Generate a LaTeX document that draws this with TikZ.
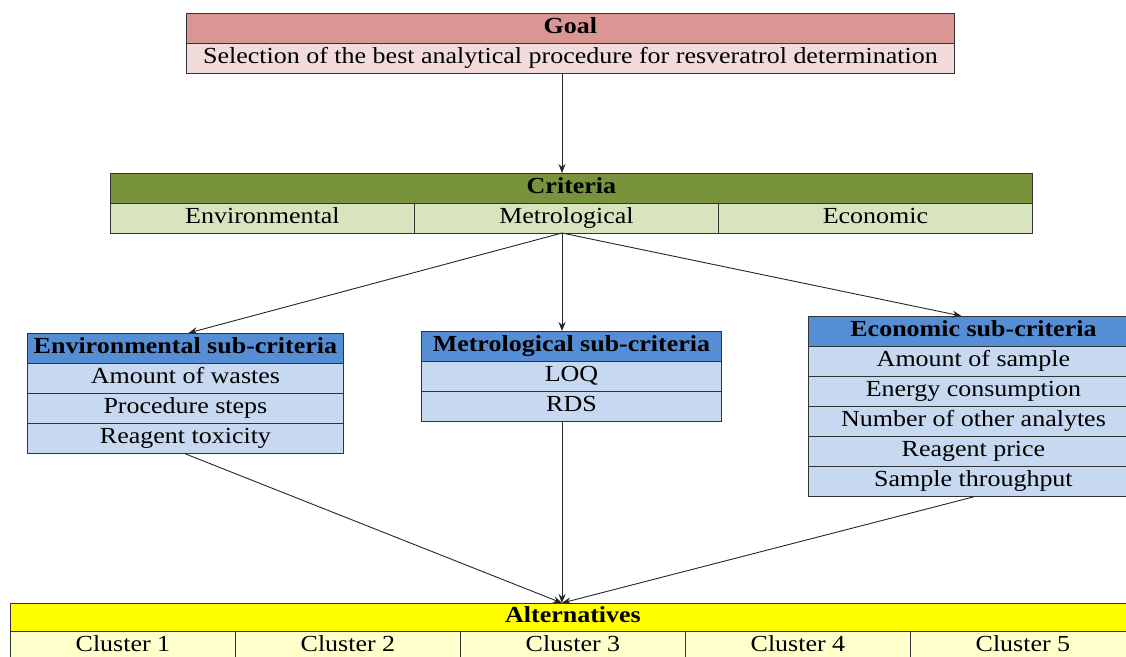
\documentclass[tikz,border=0pt]{standalone}
\usepackage{fontspec}
\setmainfont{Liberation Serif}[FakeStretch=1.13]
\usetikzlibrary{positioning,arrows.meta}

\definecolor{goalhd}{HTML}{D99694}
\definecolor{goalrow}{HTML}{F2DCDB}
\definecolor{crithd}{HTML}{77933C}
\definecolor{critrow}{HTML}{D7E4BD}
\definecolor{subhd}{HTML}{558ED5}
\definecolor{subrow}{HTML}{C6D9F1}
\definecolor{althd}{HTML}{FFFF00}
\definecolor{altrow}{HTML}{FFFFCC}

\tikzset{
  cell/.style={draw=black!80, line width=0.9pt, inner sep=0pt, anchor=north west,
    minimum height=30pt, text height=16pt, text depth=5pt,
    font=\fontsize{23}{23}\selectfont},
  headcell/.style={cell, font=\fontsize{23}{23}\selectfont\bfseries},
  link/.style={draw=black!85, line width=0.9pt, -{Stealth[length=9pt,width=7pt]}},
}

\begin{document}
\begin{tikzpicture}[x=1pt,y=-1pt]
  \fill[white] (0,0) rectangle (1126,656);
  \useasboundingbox (0,0) rectangle (1126,656);
  \clip (0,0) rectangle (1126,656);

  \coordinate (hub) at (562,233);

  % goal
  \node[headcell, fill=goalhd, minimum width=768pt] (goal) at (186,13) {Goal};
  \node[cell, fill=goalrow, minimum width=768pt] (goaltxt) at (186,43)
    {Selection of the best analytical procedure for resveratrol determination};

  % criteria
  \node[headcell, fill=crithd, minimum width=922pt] (crit) at (110,173) {Criteria};
  \node[cell, fill=critrow, minimum width=304pt] (critenv) at (110,203) {Environmental};
  \node[cell, fill=critrow, minimum width=304pt] (critmet) at (414,203) {Metrological};
  \node[cell, fill=critrow, minimum width=314pt] (criteco) at (718,203) {Economic};

  % sub-criteria
  \node[headcell, fill=subhd, minimum width=316pt] (envhd) at (27,333) {Environmental sub-criteria};
  \foreach \t [count=\i] in {Amount of wastes, Procedure steps, Reagent toxicity}
    \node[cell, fill=subrow, minimum width=316pt] (env\i) at (27,333+30*\i) {\t};

  \node[headcell, fill=subhd, minimum width=300pt] (methd) at (421,331) {Metrological sub-criteria};
  \foreach \t [count=\i] in {LOQ, RDS}
    \node[cell, fill=subrow, minimum width=300pt] (met\i) at (421,331+30*\i) {\t};

  \node[headcell, fill=subhd, minimum width=330pt] (ecohd) at (808,316) {Economic sub-criteria};
  \foreach \t [count=\i] in {Amount of sample, Energy consumption, Number of other analytes,
      Reagent price, Sample throughput}
    \node[cell, fill=subrow, minimum width=330pt] (eco\i) at (808,316+30*\i) {\t};

  % alternatives
  \node[headcell, fill=althd, minimum width=1125pt, minimum height=28pt] (alt) at (10,603) {Alternatives};
  \foreach \i in {1,...,5}
    \node[cell, fill=altrow, minimum width=225pt] (clu\i) at (10+225*\i-225,631) {Cluster \i};

  % links
  \draw[link] (goaltxt.south -| hub) -- (crit.north -| hub);
  \draw[link] (hub) -- ([xshift=3pt]envhd.north);
  \draw[link] (hub) -- (methd.north -| hub);
  \draw[link] (hub) -- ([xshift=-12pt]ecohd.north);
  \draw[link] (env3.south) -- (alt.north -| hub);
  \draw[link] (met2.south -| hub) -- (alt.north -| hub);
  \draw[link] (eco5.south) -- (alt.north -| hub);
\end{tikzpicture}
\end{document}
